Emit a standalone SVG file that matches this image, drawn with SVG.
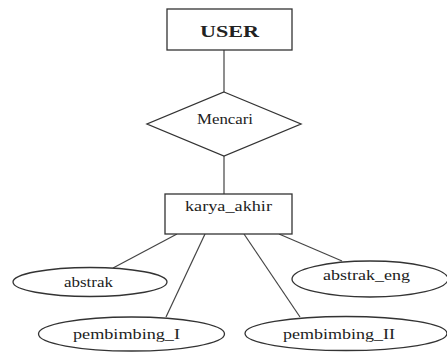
<svg xmlns="http://www.w3.org/2000/svg" width="447" height="352" viewBox="0 0 447 352">
<style>
.s{fill:#fff;stroke:#333;stroke-width:1.3}
.l{stroke:#444;stroke-width:1.2;fill:none}
text{font-family:"Liberation Serif","Times New Roman",serif;font-size:14px;fill:#222;text-anchor:middle}
.b{font-weight:bold;font-size:16px}
</style>
<rect width="447" height="352" fill="#fff"/>
<g id="connectors">
<line class="l" x1="224" y1="50" x2="224" y2="92"/>
<line class="l" x1="224" y1="156" x2="224" y2="194"/>
<line class="l" x1="177" y1="234" x2="113" y2="268"/>
<line class="l" x1="205" y1="234" x2="166" y2="317"/>
<line class="l" x1="244" y1="234" x2="300" y2="317"/>
<line class="l" x1="279" y1="234" x2="342" y2="261"/>
</g>
<g id="user">
<rect class="s" x="167" y="9" width="125" height="41"/>
<text class="b" x="229.5" y="37" textLength="59" lengthAdjust="spacingAndGlyphs">USER</text>
</g>
<g id="mencari">
<polygon class="s" points="224,92 301,124 224,156 147,124"/>
<text x="225" y="124" textLength="56" lengthAdjust="spacingAndGlyphs">Mencari</text>
</g>
<g id="karya_akhir">
<rect class="s" x="165" y="194" width="127" height="40"/>
<text x="228.5" y="211" textLength="87" lengthAdjust="spacingAndGlyphs">karya_akhir</text>
</g>
<g id="abstrak">
<ellipse class="s" cx="90" cy="282" rx="77" ry="14.5"/>
<text x="88.5" y="287" textLength="49" lengthAdjust="spacingAndGlyphs">abstrak</text>
</g>
<g id="abstrak_eng">
<ellipse class="s" cx="370" cy="279" rx="78" ry="18"/>
<text x="366.5" y="280" textLength="87" lengthAdjust="spacingAndGlyphs">abstrak_eng</text>
</g>
<g id="pembimbing_I">
<ellipse class="s" cx="131.5" cy="334" rx="93" ry="17"/>
<text x="126.5" y="339" textLength="107" lengthAdjust="spacingAndGlyphs">pembimbing_I</text>
</g>
<g id="pembimbing_II">
<ellipse class="s" cx="346" cy="333.5" rx="101" ry="17"/>
<text x="339" y="339" textLength="112" lengthAdjust="spacingAndGlyphs">pembimbing_II</text>
</g>
</svg>
